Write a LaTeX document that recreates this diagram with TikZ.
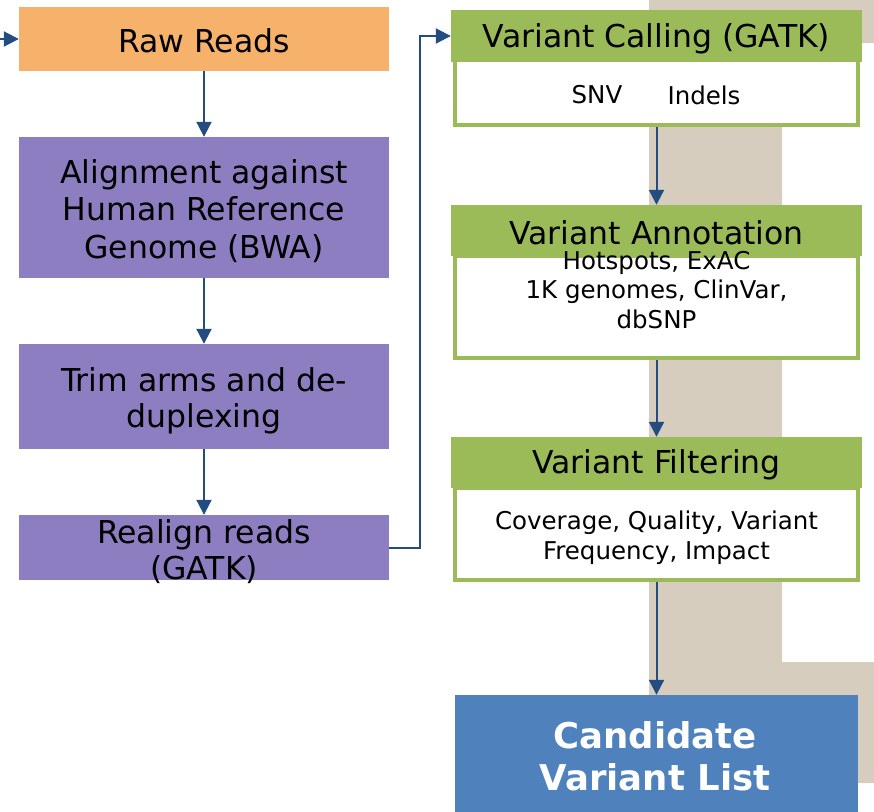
\documentclass[tikz,border=0pt]{standalone}
\usepackage{fontspec}
\setmainfont{DejaVu Sans}
\usetikzlibrary{arrows.meta}
\definecolor{rawc}{RGB}{246,178,107}
\definecolor{purc}{RGB}{141,125,193}
\definecolor{grnc}{RGB}{155,187,89}
\definecolor{bluc}{RGB}{79,129,189}
\definecolor{arrc}{RGB}{35,76,128}
\definecolor{beigec}{RGB}{214,205,190}
\begin{document}
\begin{tikzpicture}[x=1pt,y=-1pt,
  leftbox/.style={rectangle, inner sep=0pt, minimum width=370pt},
  ghead/.style={rectangle, fill=grnc, inner sep=0pt, minimum width=411pt, minimum height=51pt},
  gbody/.style={rectangle, draw=grnc, fill=white, line width=4pt, inner sep=0pt, minimum width=403pt},
  bigtxt/.style={inner sep=0pt, align=center, font=\fontsize{31.5}{37.5}\selectfont},
  smalltxt/.style={inner sep=0pt, align=center, font=\fontsize{24.5}{29.5}\selectfont},
  flow/.style={draw=arrc, line width=2pt, -{Triangle[width=15pt,length=15pt]}}]
\useasboundingbox (0,0) rectangle (874,811);
\clip (0,0) rectangle (874,811);
% background texture shape
\fill[beigec] (649,0) -- (874,0) -- (874,43) -- (782,43) -- (782,662) -- (874,662) -- (874,783) -- (782,783) -- (782,811) -- (649,811) -- cycle;
% left column
\node[leftbox, fill=rawc, minimum height=64pt] (raw) at (204,39) {};
\node[bigtxt] (rawt) at (204,41) {Raw Reads};
\node[leftbox, fill=purc, minimum height=141pt] (align) at (204,207.5) {};
\node[bigtxt] (alignt) at (204,211) {Alignment against\\Human Reference\\Genome (BWA)};
\node[leftbox, fill=purc, minimum height=105pt] (trim) at (204,396.5) {};
\node[bigtxt, font=\fontsize{31.5}{35.5}\selectfont] (trimt) at (204,401) {Trim arms and de-\\duplexing};
\node[leftbox, fill=purc, minimum height=65pt] (realign) at (204,547.5) {};
\node[bigtxt, font=\fontsize{31.5}{36}\selectfont] (realignt) at (204,551.5) {Realign reads\\(GATK)};
% right column
\node[gbody, minimum height=65pt] (callb) at (656.5,92.5) {};
\node[ghead, minimum height=52pt] (callh) at (656.5,36) {};
\node[bigtxt] (callt) at (656.5,38.5) {Variant Calling (GATK)};
\node[smalltxt] (snv) at (597,95) {SNV};
\node[smalltxt] (indels) at (704,95) {Indels};
\node[gbody, minimum height=102pt] (annb) at (656.5,307) {};
\node[ghead] (annh) at (656.5,230.5) {};
\node[bigtxt] (annht) at (656.5,233) {Variant Annotation};
\node[smalltxt] (annt) at (656.5,290) {Hotspots, ExAC\\1K genomes, ClinVar,\\dbSNP};
\node[gbody, minimum height=92pt] (filb) at (656.5,534) {};
\node[ghead] (filh) at (656.5,462.5) {};
\node[bigtxt] (filht) at (656.5,465) {Variant Filtering};
\node[smalltxt, font=\fontsize{24.5}{30}\selectfont] (filt) at (656.5,538) {Coverage, Quality, Variant\\Frequency, Impact};
\node[rectangle, fill=bluc, inner sep=0pt, minimum width=403pt, minimum height=120pt] (cand) at (656.5,755) {};
\node[inner sep=0pt, align=center, text=white, font=\fontsize{35.5}{42}\selectfont\bfseries] (candt) at (655,756) {Candidate\\Variant List};
% connectors
\coordinate (in) at (-20,39);
\draw[flow] (in) -- (raw.west);
\draw[flow] (raw.south) -- (align.north);
\draw[flow] (align.south) -- (trim.north);
\draw[flow] (trim.south) -- (realign.north);
\draw[flow] (realign.east) -- ++(31,0) |- (callh.west);
\draw[flow] (callb.south) -- (annh.north);
\draw[flow] (annb.south) -- (filh.north);
\draw[flow] (filb.south) -- (cand.north);
\end{tikzpicture}
\end{document}
